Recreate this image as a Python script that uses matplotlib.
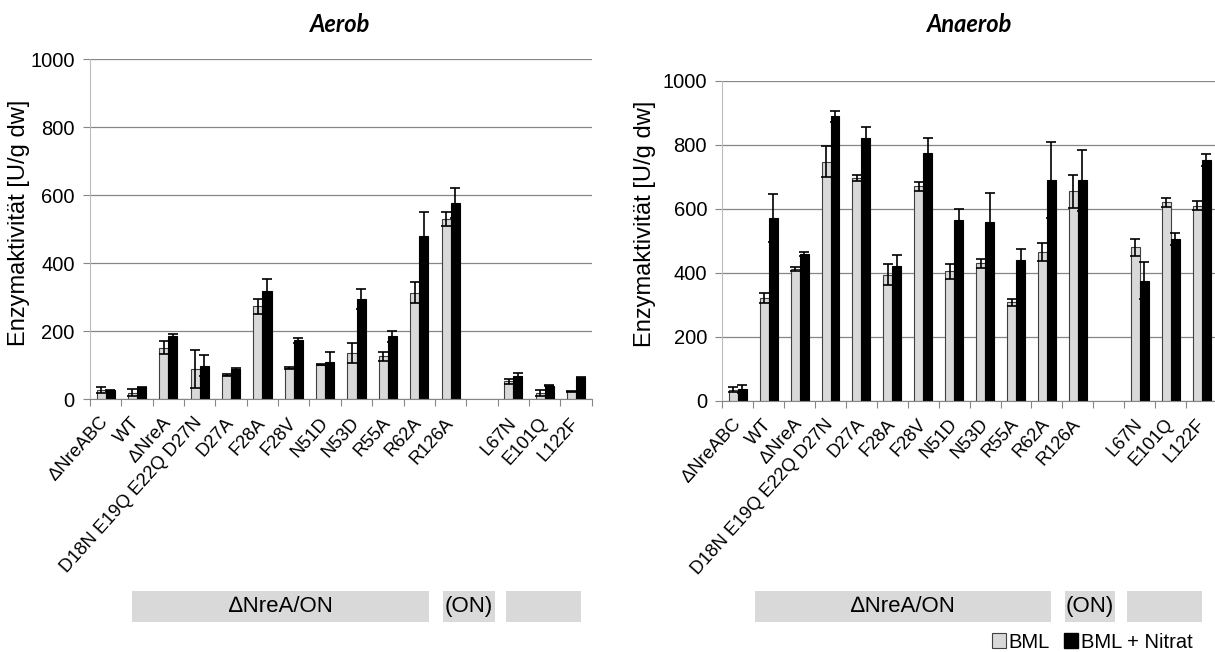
import numpy as np
import matplotlib
matplotlib.use("Agg")
import matplotlib.pyplot as plt
from matplotlib.patches import Patch, Rectangle

plt.rcParams['font.family'] = ['Liberation Sans', 'DejaVu Sans']

## -- data -- ##
strains = ["\u2206NreABC", "WT", "\u2206NreA", "D18N E19Q E22Q D27N", "D27A", "F28A",
           "F28V", "N51D", "N53D", "R55A", "R62A", "R126A", "L67N", "E101Q", "L122F"]

# Aerob
aer_bml       = [28, 20, 152, 89, 71, 273, 91, 102, 136, 126, 314, 531, 53, 19, 23]
aer_bml_err   = [9, 11, 20, 56, 2, 22, 3, 2, 30, 14, 32, 21, 7, 8, 2]
aer_nitrat    = [26, 35, 185, 99, 89, 320, 173, 111, 295, 185, 480, 577, 68, 40, 64]
aer_nitrat_err = [2, 1, 8, 31, 2, 35, 6, 27, 29, 15, 70, 45, 9, 2, 1]

# Anaerob
ana_bml       = [34, 321, 411, 748, 696, 394, 670, 404, 430, 307, 465, 655, 479, 620, 610]
ana_bml_err   = [8, 15, 6, 48, 9, 34, 15, 24, 14, 11, 28, 52, 26, 14, 13]
ana_nitrat    = [36, 571, 458, 890, 821, 420, 776, 564, 560, 441, 689, 689, 375, 506, 753]
ana_nitrat_err = [14, 75, 6, 17, 36, 34, 46, 36, 90, 34, 119, 96, 58, 18, 19]

group_labels = ["\u2206NreA/ON", "(ON)", ""]

GREY = "#d9d9d9"
GRID = "#868686"
TITLE_FONT = dict(fontsize=17, fontweight="bold", fontstyle="italic", family=["Lato", "DejaVu Sans"])

# slot 12 stays empty between the two strain groups
slots = np.array(list(range(12)) + [13, 14, 15]) + 0.5
W = 0.29

fig = plt.figure(figsize=(12.15, 6.52), dpi=100)

def px_box(x0, x1, y_top, y_bot):
    return [x0 / 1215, 1 - y_bot / 652, (x1 - x0) / 1215, (y_bot - y_top) / 652]

def panel(rect, bml, bml_err, nit, nit_err):
    ax = fig.add_axes(rect)
    ax.bar(slots - W / 2, bml, width=W, color=GREY, edgecolor="#404040", linewidth=0.8, zorder=2)
    ax.bar(slots + W / 2, nit, width=W, color="black", edgecolor="black", linewidth=0.8, zorder=2)
    ax.errorbar(slots - W / 2, bml, yerr=bml_err, fmt="none", ecolor="black",
                elinewidth=1.2, capsize=3.5, capthick=1.2, zorder=3)
    ax.errorbar(slots + W / 2, nit, yerr=nit_err, fmt="none", ecolor="black",
                elinewidth=1.2, capsize=3.5, capthick=1.2, zorder=3)
    ax.set_xlim(0, 16)
    ax.set_ylim(0, 1000)
    ax.set_yticks(np.arange(0, 1001, 200))
    ax.yaxis.grid(True, color=GRID, linewidth=0.9)
    ax.set_axisbelow(True)
    for s in ["top", "right"]:
        ax.spines[s].set_visible(False)
    ax.spines["left"].set_color("#bcbcbc")
    ax.spines["bottom"].set_color(GRID)
    ax.tick_params(axis="y", length=5, color=GRID, labelsize=14.5, pad=6)
    ax.set_xticks(np.arange(0, 17))
    ax.tick_params(axis="x", which="major", length=5, color=GRID, labelbottom=False)
    ax.set_xticks(slots, minor=True)
    ax.set_xticklabels(strains, minor=True, rotation=48, ha="right", va="center",
                       rotation_mode="anchor", fontsize=13.2)
    ax.tick_params(axis="x", which="minor", length=0, pad=15)
    return ax

ax1 = panel(px_box(90, 591.7, 59.3, 399.3), aer_bml, aer_bml_err, aer_nitrat, aer_nitrat_err)
ax2 = panel(px_box(722.3, 1217, 81, 400.5), ana_bml, ana_bml_err, ana_nitrat, ana_nitrat_err)

fig.text(340 / 1215, 1 - 25 / 652, "Aerob", ha="center", va="center", **TITLE_FONT)
fig.text(970 / 1215, 1 - 25 / 652, "Anaerob", ha="center", va="center", **TITLE_FONT)

ylab = "Enzymaktivit\u00e4t [U/g dw]"
fig.text(19.5 / 1215, 1 - 223 / 652, ylab, rotation=90, ha="center", va="center", fontsize=17)
fig.text(645 / 1215, 1 - 224 / 652, ylab, rotation=90, ha="center", va="center", fontsize=17)

# grey group boxes under each panel
box_sets = [
    [(132.4, 428.5), (443.3, 494.7), (505.6, 581.2)],
    [(755, 1051), (1065, 1115), (1127, 1202)],
]
for boxes in box_sets:
    for (x0, x1), lab in zip(boxes, group_labels):
        r = px_box(x0, x1, 590.7, 622.3)
        fig.patches.append(Rectangle((r[0], r[1]), r[2], r[3], transform=fig.transFigure,
                                     facecolor=GREY, edgecolor="none"))
        fig.text(r[0] + r[2] / 2, r[1] + r[3] / 2, lab, ha="center", va="center", fontsize=16)

handles = [Patch(facecolor=GREY, edgecolor="#404040", linewidth=0.8),
           Patch(facecolor="black", edgecolor="black")]
fig.legend(handles, ["BML", "BML + Nitrat"], loc="center right", bbox_to_anchor=(1203 / 1215, 10 / 652),
           ncol=2, frameon=False, fontsize=14.5, handlelength=0.7, handleheight=0.7,
           handletextpad=0.15, columnspacing=0.7, borderpad=0)

fig.savefig("out.png", dpi=100)
